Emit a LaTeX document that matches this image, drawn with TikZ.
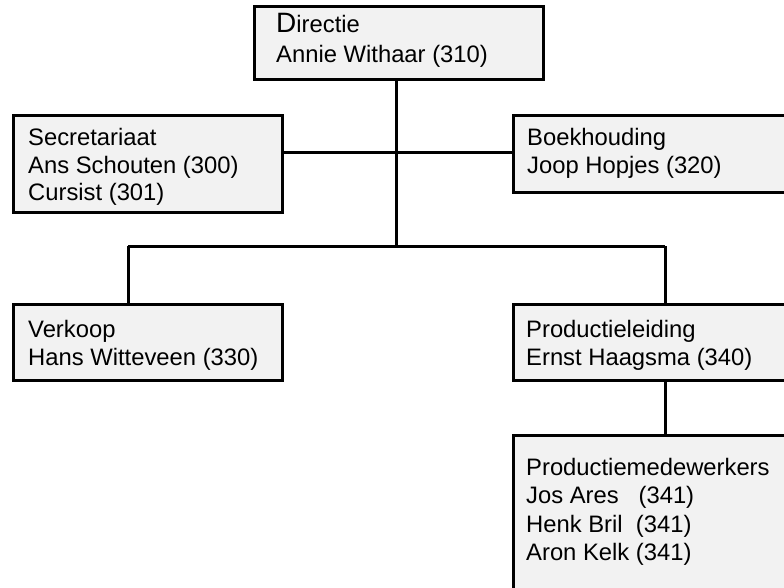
\documentclass[tikz,border=0pt]{standalone}
\usepackage{fontspec}
\setmainfont{Liberation Sans}
\definecolor{boxfill}{HTML}{F2F2F2}
\begin{document}
\begin{tikzpicture}[x=1pt,y=-1pt,
  box/.style={draw=black, line width=3pt, fill=boxfill, rectangle, inner sep=0pt, anchor=north west},
  lbl/.style={anchor=base west, inner sep=0pt, font=\fontsize{23.8}{28}\selectfont},
  conn/.style={draw=black, line width=3pt}]
\useasboundingbox (0,0) rectangle (784,587);
\clip (0,0) rectangle (784,587);
\fill[white] (0,0) rectangle (784,587);
% boxes
\node[box, minimum width=289pt, minimum height=73pt] (dir) at (253,5) {};
\node[box, minimum width=269pt, minimum height=97pt] (sec) at (12,114) {};
\node[box, minimum width=278pt, minimum height=77pt] (boek) at (512,114) {};
\node[box, minimum width=269pt, minimum height=76pt] (verk) at (12,303) {};
\node[box, minimum width=278pt, minimum height=76pt] (prod) at (512,303) {};
\node[box, minimum width=278pt, minimum height=170pt] (med) at (512,434) {};
% junctions
\coordinate (jtop) at (396,152);
\coordinate (jbar) at (396,246);
\coordinate (jl) at (128,246);
\coordinate (jr) at (665,246);
% connectors
\draw[conn] (dir.south -| jbar) -- (jbar);
\draw[conn] (sec.east |- jtop) -- (boek.west |- jtop);
\draw[conn] (jl) -- (jr);
\draw[conn] (jl) -- (verk.north -| jl);
\draw[conn] (jr) -- (prod.north -| jr);
\draw[conn] (prod.south -| jr) -- (med.north -| jr);
% texts
\node[lbl] (t1) at (276,32) {{\fontsize{28}{28}\selectfont D}irectie};
\node[lbl] (t2) at (276,62) {Annie Withaar (310)};
\node[lbl] (t3) at (28,145) {Secretariaat};
\node[lbl] (t4) at (28,173) {Ans Schouten (300)};
\node[lbl] (t5) at (28,200) {Cursist (301)};
\node[lbl] (t6) at (527,145) {Boekhouding};
\node[lbl] (t7) at (527,173) {Joop Hopjes (320)};
\node[lbl] (t8) at (28,337) {Verkoop};
\node[lbl] (t9) at (28,365) {Hans Witteveen (330)};
\node[lbl] (t10) at (526,337) {Productieleiding};
\node[lbl] (t11) at (526,365) {Ernst Haagsma (340)};
\node[lbl] (t12) at (526,475) {Productiemedewerkers};
\node[lbl] (t13) at (526,503) {Jos Ares\ \ \ (341)};
\node[lbl] (t14) at (526,532) {Henk Bril\ \ (341)};
\node[lbl] (t15) at (526,560) {Aron Kelk (341)};
\end{tikzpicture}
\end{document}
